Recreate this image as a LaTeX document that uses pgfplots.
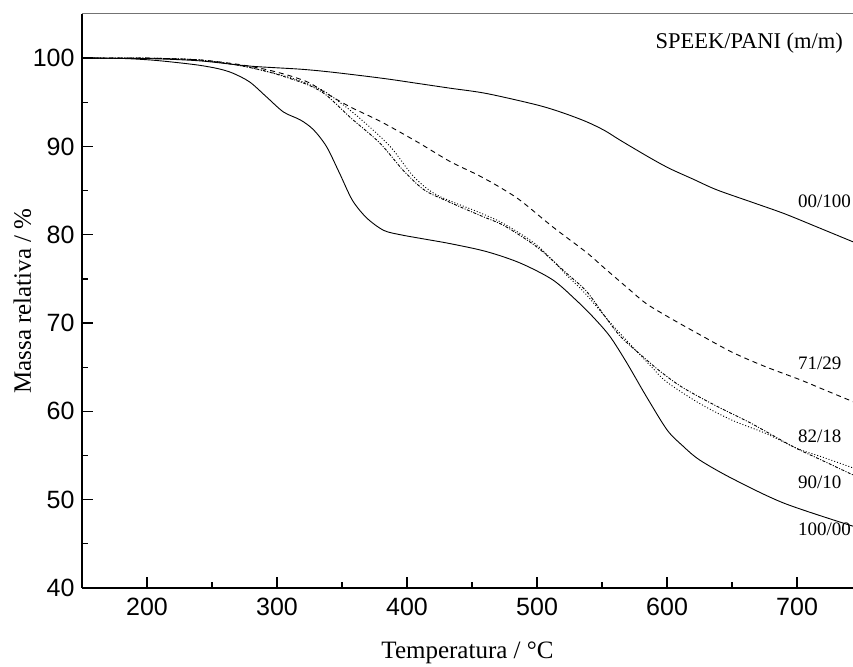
\documentclass[border=0pt]{standalone}
\usepackage{fontspec}
\setmainfont{Liberation Serif}
\setsansfont{Liberation Sans}
\usepackage{pgfplots}
\pgfplotsset{compat=1.18}

\begin{document}
\begin{tikzpicture}
\path[use as bounding box] (-82pt,-78pt) rectangle (771pt,588pt);
\begin{axis}[
  at={(0,0)}, anchor=south west,
  scale only axis, width=771pt, height=574pt,
  xmin=150, xmax=743, ymin=40, ymax=105,
  axis x line*=bottom, axis y line*=left,
  axis line style={line width=1.5pt, -},
  xtick={200,300,...,700}, minor x tick num=1,
  ytick={40,50,...,100}, minor y tick num=1,
  tick align=inside,
  major tick length=11pt, minor tick length=6pt,
  every tick/.style={line width=1.3pt, black},
  /pgf/number format/assume math mode=true,
  ticklabel style={font=\sffamily\fontsize{25}{27}\selectfont},
  yticklabel style={xshift=-4pt},
  xticklabel style={yshift=-7pt},
  xlabel={Temperatura / °C},
  ylabel={Massa relativa / \%},
  label style={font=\fontsize{25}{28}\selectfont},
  xlabel style={at={(rel axis cs:0.5,0)}, anchor=base, yshift=-70pt},
  ylabel style={at={(rel axis cs:0,0.5)}, anchor=base, yshift=51pt},
]
\draw[black!55, line width=1pt] (rel axis cs:0,1) -- (rel axis cs:1,1);

% 100/00
\addplot[black, line width=0.9pt, no markers, smooth] table {
150 100
180 99.97
202 99.8
220 99.55
240 99.2
255 98.8
266 98.3
279 97.3
292 95.6
305 93.9
318 93.0
328 91.9
338 90.0
348 87.0
358 83.9
369 81.9
382 80.5
395 80.0
410 79.6
433 79.0
461 78.1
487 76.8
512 74.9
530 72.6
543 70.7
556 68.5
569 65.5
584 61.7
600 57.9
612 56.1
625 54.5
650 52.4
690 49.6
743 47.0
};
% 00/100
\addplot[black, line width=0.9pt, no markers, smooth] table {
150 100
200 99.95
240 99.7
279 99.1
318 98.75
343 98.4
382 97.7
410 97.1
433 96.6
461 96.0
500 94.7
520 93.8
538 92.8
552 91.8
564 90.7
587 88.7
602 87.5
620 86.3
638 85.1
665 83.7
690 82.4
715 80.9
743 79.2
};
% 71/29
\addplot[black, line width=0.9pt, no markers, smooth, dash pattern=on 5pt off 4pt] table {
150 100
200 100
240 99.8
270 99.3
292 98.7
310 98.0
325 97.2
338 96.0
356 94.5
380 92.8
408 90.5
433 88.3
454 86.8
470 85.5
487 83.9
512 80.9
538 78.0
552 76.2
571 73.8
584 72.2
602 70.6
625 68.7
650 66.7
675 65.1
702 63.6
720 62.5
743 61.1
};
% 82/18
\addplot[black, line width=0.9pt, no markers, smooth, dash pattern=on 3pt off 1.5pt on 1pt off 1.5pt] table {
150 100
200 100
240 99.8
270 99.2
292 98.5
310 97.7
325 96.9
338 95.8
357 93.2
379 90.4
397 87.3
413 85.1
431 83.8
456 82.2
475 81.0
500 78.6
523 75.6
538 73.6
552 70.8
564 68.5
579 66.5
595 64.5
612 62.7
638 60.6
664 58.7
697 56.0
720 54.4
743 52.8
};
% 90/10
\addplot[black, line width=0.9pt, no markers, smooth, dash pattern=on 1pt off 2pt] table {
150 100
200 100
240 99.8
270 99.2
292 98.5
310 97.8
325 97.0
338 96.1
362 93.4
387 90.0
405 86.6
423 84.5
456 82.5
475 81.2
500 78.8
523 75.4
538 73.2
559 69.6
587 65.2
600 63.3
625 60.9
650 59.0
676 57.5
700 55.8
720 54.8
743 53.6
};

\node[anchor=base west, font=\fontsize{22.5}{25}\selectfont] at (axis cs:588.5,101.1) {SPEEK/PANI (m/m)};
\node[anchor=west, font=\fontsize{19}{21}\selectfont] at (axis cs:698,83.8) {00/100};
\node[anchor=west, font=\fontsize{19}{21}\selectfont] at (axis cs:698,65.4) {71/29};
\node[anchor=west, font=\fontsize{19}{21}\selectfont] at (axis cs:698,57.2) {82/18};
\node[anchor=west, font=\fontsize{19}{21}\selectfont] at (axis cs:698,52.0) {90/10};
\node[anchor=west, font=\fontsize{19}{21}\selectfont] at (axis cs:698,46.7) {100/00};
\end{axis}
\end{tikzpicture}
\end{document}
